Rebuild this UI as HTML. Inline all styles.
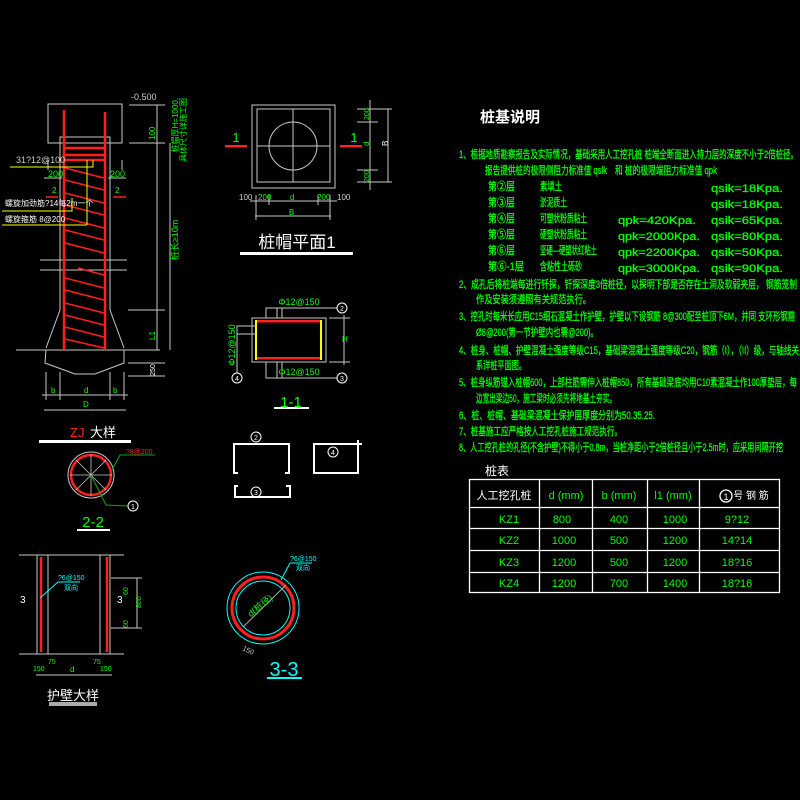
<!DOCTYPE html>
<html><head><meta charset="utf-8"><style>
html,body{margin:0;padding:0;background:#000;}
svg{display:block}
text{font-family:"Liberation Sans","Noto Sans CJK SC",sans-serif;}
.g{fill:#00ff00}.w{fill:#fff}.c{fill:#00ffff}.r{fill:#ff2020}
</style></head><body>
<svg width="800" height="800" viewBox="0 0 800 800" xmlns="http://www.w3.org/2000/svg">
<rect width="800" height="800" fill="#000"/>
<!-- ===== Left pile ZJ detail ===== -->
<g stroke="#c8c8c8" stroke-width="1" fill="none">
<rect x="48" y="104" width="74" height="39"/>
<polyline points="60,143 60,137 110,137 110,143"/>
<line x1="60" y1="137" x2="60" y2="310"/><line x1="110" y1="137" x2="110" y2="310"/>
<line x1="40" y1="260" x2="127" y2="260"/><line x1="40" y1="270" x2="127" y2="270"/>
<polyline points="60,310 46,348"/><polyline points="110,310 124,348"/>
<line x1="16" y1="350" x2="160" y2="350"/>
<polyline points="46,350 45,363 75,374 95,374 124,363 124,350"/>
<line x1="46" y1="372" x2="46" y2="400"/><line x1="60" y1="372" x2="60" y2="400"/><line x1="110" y1="372" x2="110" y2="400"/><line x1="124" y1="372" x2="124" y2="400"/>
<line x1="42" y1="395" x2="128" y2="395"/><line x1="44" y1="410" x2="126" y2="410"/>
<line x1="129" y1="105" x2="165" y2="105"/><line x1="129" y1="143" x2="165" y2="143"/>
<line x1="157" y1="105" x2="157" y2="350"/><line x1="170" y1="143" x2="170" y2="350"/>
<line x1="128" y1="310" x2="165" y2="310"/><line x1="128" y1="363" x2="165" y2="363"/><line x1="128" y1="376" x2="165" y2="376"/>
<line x1="44" y1="178" x2="62" y2="178"/><line x1="108" y1="178" x2="126" y2="178"/>
<line x1="48" y1="160" x2="48" y2="170"/><line x1="122" y1="160" x2="122" y2="170"/>
</g>
<g stroke="#ff1e1e" stroke-width="2.5" fill="none">
<line x1="64" y1="110" x2="64" y2="350"/><line x1="105" y1="112" x2="105" y2="350"/>
<line x1="64" y1="148" x2="105" y2="148"/><line x1="64" y1="155" x2="105" y2="155"/><line x1="64" y1="160" x2="105" y2="160"/>
</g>
<g stroke="#ff1e1e" stroke-width="1.5">
<line x1="65" y1="168" x2="104" y2="178"/><line x1="65" y1="180" x2="104" y2="190"/><line x1="65" y1="193" x2="104" y2="203"/><line x1="65" y1="205" x2="104" y2="215"/><line x1="65" y1="218" x2="104" y2="228"/><line x1="65" y1="230" x2="104" y2="240"/><line x1="65" y1="243" x2="104" y2="253"/><line x1="78" y1="268" x2="104" y2="275"/><line x1="65" y1="278" x2="104" y2="288"/><line x1="65" y1="290" x2="104" y2="300"/><line x1="65" y1="303" x2="104" y2="313"/><line x1="65" y1="315" x2="104" y2="325"/><line x1="65" y1="327" x2="104" y2="337"/><line x1="65" y1="339" x2="104" y2="348"/>
<line x1="46" y1="197" x2="58" y2="197"/><line x1="113" y1="197" x2="126" y2="197"/>
</g>
<g stroke="#ffff00" stroke-width="1" fill="none">
<polyline points="10,167 93,167 93,160"/><line x1="87" y1="160" x2="87" y2="225"/><line x1="2" y1="225" x2="87" y2="225"/>
<polyline points="2,211 72,211 72,198"/>
</g>
<text x="16" y="163" font-size="9" fill="#ccc">31?12@100</text>
<text x="5" y="206" font-size="8" class="w">螺旋加劲筋?14每2m一个</text>
<text x="5" y="222" font-size="8" class="w">螺旋箍筋 8@200</text>
<text x="48" y="177" font-size="9" class="g">200</text><text x="110" y="177" font-size="9" class="g">200</text>
<text x="52" y="193" font-size="8" class="g">2</text><text x="115" y="193" font-size="8" class="g">2</text>
<text x="131" y="100" font-size="9" fill="#ccc">-0.500</text>
<text transform="translate(178,98) rotate(-90)" font-size="8" class="g" text-anchor="end">桩帽厚H=1000,</text>
<text transform="translate(186,98) rotate(-90)" font-size="8" class="g" text-anchor="end">具体尺寸详施工图</text>
<text transform="translate(155,140) rotate(-90)" font-size="8" class="g">100</text>
<text transform="translate(178,240) rotate(-90)" font-size="9" class="g" text-anchor="middle">桩长≥10m</text>
<text transform="translate(155,340) rotate(-90)" font-size="8" class="g">L1</text>
<text transform="translate(155,370) rotate(-90)" font-size="7" class="w" text-anchor="middle">250</text>
<text x="51" y="393" font-size="8" class="g">b</text><text x="84" y="393" font-size="8" class="g">d</text><text x="113" y="393" font-size="8" class="g">b</text><text x="83" y="407" font-size="8" class="g">D</text>
<text x="70" y="437" font-size="13" class="r">ZJ</text><text x="90" y="437" font-size="13" class="w">大样</text>
<rect x="39" y="440" width="92" height="3" fill="#fff"/>
<!-- 2-2 -->
<circle cx="91" cy="475" r="23" fill="none" stroke="#c8c8c8"/>
<circle cx="91" cy="475" r="20" fill="none" stroke="#ff2020" stroke-width="2.5"/>
<g stroke="#c8c8c8" stroke-width="0.8"><line x1="70" y1="475" x2="112" y2="475"/><line x1="91" y1="454" x2="91" y2="496"/><line x1="76" y1="460" x2="106" y2="490"/><line x1="76" y1="490" x2="106" y2="460"/></g>
<polyline points="112,470 120,455 155,455" stroke="#00aa00" fill="none"/><text x="126" y="454" font-size="7" class="r">?8@200</text>
<polyline points="91,475 106,505 128,506" stroke="#00aa00" fill="none"/>
<circle cx="133" cy="506" r="5" fill="none" stroke="#fff"/><text x="133" y="509" font-size="7" class="w" text-anchor="middle">1</text>
<text x="93" y="527" font-size="15" class="g" text-anchor="middle">2-2</text><rect x="77" y="529" width="33" height="2" fill="#fff"/>
<!-- 护壁 -->
<g stroke="#c8c8c8" fill="none"><line x1="19" y1="555" x2="124" y2="555"/><line x1="19" y1="654" x2="124" y2="654"/>
<line x1="37" y1="555" x2="37" y2="654"/><line x1="48" y1="555" x2="48" y2="654"/><line x1="100" y1="555" x2="100" y2="654"/><line x1="110" y1="555" x2="110" y2="654"/>
<line x1="111" y1="578" x2="142" y2="578"/><line x1="111" y1="628" x2="142" y2="628"/><line x1="137" y1="578" x2="137" y2="628"/>
<line x1="36" y1="675" x2="112" y2="675"/></g>
<g stroke="#ff2020" stroke-width="2.5"><line x1="41" y1="557" x2="41" y2="652"/><line x1="107" y1="557" x2="107" y2="652"/></g>
<line x1="40" y1="598" x2="58" y2="582" stroke="#0ff"/><line x1="58" y1="582" x2="80" y2="582" stroke="#0ff"/>
<text x="58" y="580" font-size="7" class="c">?6@150</text><text x="64" y="590" font-size="7" class="c">双向</text>
<text x="20" y="603" font-size="10" class="w">3</text><text x="117" y="603" font-size="10" class="w">3</text>
<text transform="translate(128,595) rotate(-90)" font-size="7" class="g">60</text><text transform="translate(141,608) rotate(-90)" font-size="7" class="g">800</text><text transform="translate(128,628) rotate(-90)" font-size="7" class="g">60</text>
<text x="33" y="671" font-size="7" class="g">150</text><text x="48" y="664" font-size="7" class="g">75</text><text x="70" y="672" font-size="8" class="g">d</text><text x="93" y="664" font-size="7" class="g">75</text><text x="100" y="671" font-size="7" class="g">150</text>
<text x="73" y="700" font-size="13" class="w" text-anchor="middle">护壁大样</text><rect x="49" y="702" width="48" height="4" fill="#aaa"/>
<!-- ===== 桩帽平面 ===== -->
<g stroke="#c8c8c8" fill="none">
<rect x="252" y="105" width="83" height="83"/><rect x="257" y="109" width="73" height="73"/>
<line x1="293" y1="109" x2="293" y2="182"/><line x1="257" y1="146" x2="330" y2="146"/>
<circle cx="293" cy="146" r="24"/>
<line x1="250" y1="201" x2="337" y2="201"/><line x1="255" y1="216" x2="331" y2="216"/>
<line x1="256" y1="195" x2="256" y2="220"/><line x1="269" y1="195" x2="269" y2="205"/><line x1="318" y1="195" x2="318" y2="205"/><line x1="330" y1="195" x2="330" y2="220"/>
<line x1="357" y1="109" x2="392" y2="109"/><line x1="357" y1="182" x2="392" y2="182"/><line x1="370" y1="100" x2="370" y2="190"/><line x1="388" y1="109" x2="388" y2="182"/>
<line x1="357" y1="122" x2="378" y2="122"/><line x1="357" y1="170" x2="378" y2="170"/>
</g>
<rect x="225" y="145" width="22" height="2.5" fill="#ff2020"/><rect x="340" y="145" width="22" height="2.5" fill="#ff2020"/>
<text x="236" y="142" font-size="13" class="g" text-anchor="middle">1</text><text x="354" y="142" font-size="13" class="g" text-anchor="middle">1</text>
<text x="239" y="200" font-size="8" fill="#ccc">100</text><text x="258" y="200" font-size="8" class="g">200</text><text x="290" y="200" font-size="8" class="g">d</text><text x="317" y="200" font-size="8" class="g">200</text><text x="337" y="200" font-size="8" fill="#ccc">100</text>
<text x="289" y="215" font-size="8" class="g">B</text>
<text transform="translate(369,120) rotate(-90)" font-size="7" class="g">200</text><text transform="translate(369,146) rotate(-90)" font-size="8" class="g">d</text><text transform="translate(369,182) rotate(-90)" font-size="7" class="g">200</text><text transform="translate(388,146) rotate(-90)" font-size="8" class="w">B</text>
<text x="297" y="248" font-size="17" class="w" text-anchor="middle">桩帽平面1</text><rect x="240" y="252" width="113" height="3" fill="#fff"/>
<!-- 1-1 -->
<g stroke="#c8c8c8" fill="none"><rect x="252" y="318" width="74" height="44"/>
<polyline points="266,318 266,308 337,308"/><line x1="277" y1="308" x2="277" y2="318"/><line x1="282" y1="308" x2="282" y2="318"/>
<polyline points="266,362 266,378 337,378"/><line x1="277" y1="362" x2="277" y2="378"/><line x1="282" y1="362" x2="282" y2="378"/>
<polyline points="255,326 237,326 237,373"/><line x1="237" y1="334" x2="255" y2="334"/>
<line x1="329" y1="318" x2="350" y2="318"/><line x1="329" y1="362" x2="350" y2="362"/><line x1="344" y1="315" x2="344" y2="365"/></g>
<rect x="255" y="320" width="67" height="2.5" fill="#ff2020"/><rect x="255" y="357" width="67" height="2.5" fill="#ff2020"/>
<rect x="255" y="320" width="2" height="40" fill="#ff0"/><rect x="320" y="320" width="2" height="40" fill="#ff0"/>
<text x="299" y="305" font-size="9" class="g" text-anchor="middle">Φ12@150</text><text x="299" y="375" font-size="9" class="g" text-anchor="middle">Φ12@150</text>
<text transform="translate(235,345) rotate(-90)" font-size="9" class="g" text-anchor="middle">Φ12@150</text>
<text x="342" y="342" font-size="8" class="g">H</text>
<g fill="none" stroke="#fff"><circle cx="342" cy="308" r="5"/><circle cx="342" cy="378" r="5"/><circle cx="237" cy="378" r="5"/></g>
<text x="342" y="311" font-size="7" class="w" text-anchor="middle">2</text><text x="342" y="381" font-size="7" class="w" text-anchor="middle">3</text><text x="237" y="381" font-size="7" class="w" text-anchor="middle">4</text>
<text x="291" y="407" font-size="15" class="g" text-anchor="middle">1-1</text><rect x="274" y="407" width="35" height="2" fill="#fff"/>
<g stroke="#fff" stroke-width="2" fill="none">
<polyline points="238,473 234,473 234,444 289,444 289,473 285,473"/>
<polyline points="238,486 235,486 235,497 290,497 290,486 286,486"/>
<polyline points="358,440 358,473 314,473 314,444 362,444"/></g>
<g fill="none" stroke="#fff"><circle cx="256" cy="437" r="5"/><circle cx="256" cy="492" r="5"/><circle cx="333" cy="452" r="5"/></g>
<text x="256" y="440" font-size="7" class="w" text-anchor="middle">2</text><text x="256" y="495" font-size="7" class="w" text-anchor="middle">3</text><text x="333" y="455" font-size="7" class="w" text-anchor="middle">4</text>
<!-- 3-3 -->
<circle cx="263" cy="608" r="36" fill="none" stroke="#0ff"/>
<circle cx="263" cy="608" r="31" fill="none" stroke="#ff2020" stroke-width="3"/>
<circle cx="263" cy="608" r="27" fill="none" stroke="#0ff"/>
<line x1="243" y1="627" x2="286" y2="585" stroke="#aaa"/>
<text transform="translate(262,608) rotate(-40)" font-size="9" class="g" text-anchor="middle">d(桩径)</text>
<line x1="281" y1="580" x2="290" y2="563" stroke="#0ff"/><line x1="290" y1="563" x2="312" y2="563" stroke="#0ff"/>
<text x="290" y="561" font-size="7" class="c">?6@150</text><text x="296" y="570" font-size="7" class="c">双向</text>
<text transform="translate(242,650) rotate(25)" font-size="7" fill="#ccc">150</text>
<text x="284" y="676" font-size="20" class="c" text-anchor="middle">3-3</text><rect x="267" y="677" width="35" height="2" fill="#0ff"/>
<!-- ===== Notes ===== -->
<text x="480" y="122" font-size="15" font-weight="bold" class="w">桩基说明</text>
<g font-size="11" class="g" stroke="#00ff00" stroke-width="0.3">
<text x="459" y="158" textLength="339" lengthAdjust="spacingAndGlyphs">1、根据地质勘察报告及实际情况，基础采用人工挖孔桩 桩端全断面进入持力层的深度不小于2倍桩径。</text>
<text x="485" y="174" textLength="122" lengthAdjust="spacingAndGlyphs">报告提供桩的极限侧阻力标准值 qslk</text>
<text x="615" y="174" textLength="102" lengthAdjust="spacingAndGlyphs">和 桩的极限端阻力标准值 qpk</text>
<text x="488" y="190" textLength="27" lengthAdjust="spacingAndGlyphs">第②层</text><text x="540" y="190" textLength="22" lengthAdjust="spacingAndGlyphs">素填土</text><text x="711" y="192" textLength="72" lengthAdjust="spacingAndGlyphs">qsik=18Kpa.</text>
<text x="488" y="206" textLength="27" lengthAdjust="spacingAndGlyphs">第③层</text><text x="540" y="206" textLength="27" lengthAdjust="spacingAndGlyphs">淤泥质土</text><text x="711" y="208" textLength="72" lengthAdjust="spacingAndGlyphs">qsik=18Kpa.</text>
<text x="488" y="222" textLength="27" lengthAdjust="spacingAndGlyphs">第④层</text><text x="540" y="222" textLength="47" lengthAdjust="spacingAndGlyphs">可塑状粉质粘土</text><text x="618" y="224" textLength="78" lengthAdjust="spacingAndGlyphs">qpk=420Kpa.</text><text x="711" y="224" textLength="72" lengthAdjust="spacingAndGlyphs">qsik=65Kpa.</text>
<text x="488" y="238" textLength="27" lengthAdjust="spacingAndGlyphs">第⑤层</text><text x="540" y="238" textLength="47" lengthAdjust="spacingAndGlyphs">硬塑状粉质粘土</text><text x="618" y="240" textLength="82" lengthAdjust="spacingAndGlyphs">qpk=2000Kpa.</text><text x="711" y="240" textLength="72" lengthAdjust="spacingAndGlyphs">qsik=80Kpa.</text>
<text x="488" y="254" textLength="27" lengthAdjust="spacingAndGlyphs">第⑥层</text><text x="540" y="254" textLength="57" lengthAdjust="spacingAndGlyphs">坚硬—硬塑状红粘土</text><text x="618" y="256" textLength="82" lengthAdjust="spacingAndGlyphs">qpk=2200Kpa.</text><text x="711" y="256" textLength="72" lengthAdjust="spacingAndGlyphs">qsik=50Kpa.</text>
<text x="488" y="270" textLength="36" lengthAdjust="spacingAndGlyphs">第⑥-1层</text><text x="540" y="270" textLength="42" lengthAdjust="spacingAndGlyphs">含粘性土砾砂</text><text x="618" y="272" textLength="82" lengthAdjust="spacingAndGlyphs">qpk=3000Kpa.</text><text x="711" y="272" textLength="72" lengthAdjust="spacingAndGlyphs">qsik=90Kpa.</text>
<text x="459" y="288" textLength="338" lengthAdjust="spacingAndGlyphs">2、成孔后将桩端每进行钎探，钎探深度3倍桩径，以探明下部是否存在土洞及软弱夹层， 钢筋笼制</text>
<text x="476" y="303" textLength="115" lengthAdjust="spacingAndGlyphs">作及安装须遵照有关规范执行。</text>
<text x="459" y="320" textLength="336" lengthAdjust="spacingAndGlyphs">3、挖孔时每米长应用C15细石混凝土作护壁，护壁以下设钢筋 8@300配至桩顶下6M，并同 支环形钢箍</text>
<text x="476" y="336" textLength="122" lengthAdjust="spacingAndGlyphs">Ø8@200(第一节护壁内也需@200)。</text>
<text x="459" y="354" textLength="340" lengthAdjust="spacingAndGlyphs">4、桩身、桩帽、护壁混凝土强度等级C15，基础梁混凝土强度等级C20，钢筋（I），（II）级，与轴线关</text>
<text x="476" y="369" textLength="50" lengthAdjust="spacingAndGlyphs">系详桩平面图。</text>
<text x="459" y="386" textLength="338" lengthAdjust="spacingAndGlyphs">5、桩身纵筋锚入桩帽600，上部柱筋需伸入桩帽850，所有基础梁底均用C10素混凝土作100厚垫层，每</text>
<text x="476" y="402" textLength="140" lengthAdjust="spacingAndGlyphs">边宽出梁边50，施工梁时必须先将地基土夯实。</text>
<text x="459" y="419" textLength="196" lengthAdjust="spacingAndGlyphs">6、桩、桩帽、基础梁混凝土保护层厚度分别为50.35.25.</text>
<text x="459" y="435" textLength="163" lengthAdjust="spacingAndGlyphs">7、桩基施工应严格按人工挖孔桩施工规范执行。</text>
<text x="459" y="451" textLength="324" lengthAdjust="spacingAndGlyphs">8、人工挖孔桩的孔径(不含护壁)不得小于0.8m，当桩净距小于2倍桩径且小于2.5m时，应采用间隔开挖</text>
</g>
<text x="485" y="475" font-size="12" class="w">桩表</text>
<g stroke="#fff" stroke-width="1.3" fill="none">
<rect x="469.5" y="479.5" width="310" height="113"/>
<line x1="469" y1="507.5" x2="779" y2="507.5"/><line x1="469" y1="528.5" x2="779" y2="528.5"/><line x1="469" y1="550.5" x2="779" y2="550.5"/><line x1="469" y1="572.5" x2="779" y2="572.5"/>
<line x1="539.5" y1="479" x2="539.5" y2="593"/><line x1="592.5" y1="479" x2="592.5" y2="593"/><line x1="647.5" y1="479" x2="647.5" y2="593"/><line x1="699.5" y1="479" x2="699.5" y2="593"/>
<circle cx="726" cy="496" r="6"/></g>
<text x="504" y="499" font-size="11" class="w" text-anchor="middle">人工挖孔桩</text>
<g font-size="11" class="g" text-anchor="middle">
<text x="566" y="499">d (mm)</text><text x="619" y="499">b (mm)</text><text x="673" y="499">l1 (mm)</text>
<text x="509" y="523">KZ1</text><text x="562" y="523">800</text><text x="619" y="523">400</text><text x="675" y="523">1000</text><text x="737" y="523">9?12</text>
<text x="509" y="544">KZ2</text><text x="564" y="544">1000</text><text x="619" y="544">500</text><text x="675" y="544">1200</text><text x="737" y="544">14?14</text>
<text x="509" y="566">KZ3</text><text x="564" y="566">1200</text><text x="619" y="566">500</text><text x="675" y="566">1200</text><text x="737" y="566">18?16</text>
<text x="509" y="587">KZ4</text><text x="564" y="587">1200</text><text x="619" y="587">700</text><text x="675" y="587">1400</text><text x="737" y="587">18?16</text>
</g>
<text x="726" y="500" font-size="9" class="w" text-anchor="middle">1</text><text x="751" y="499" font-size="10" class="w" text-anchor="middle">号 钢 筋</text>
</svg>
</body></html>
